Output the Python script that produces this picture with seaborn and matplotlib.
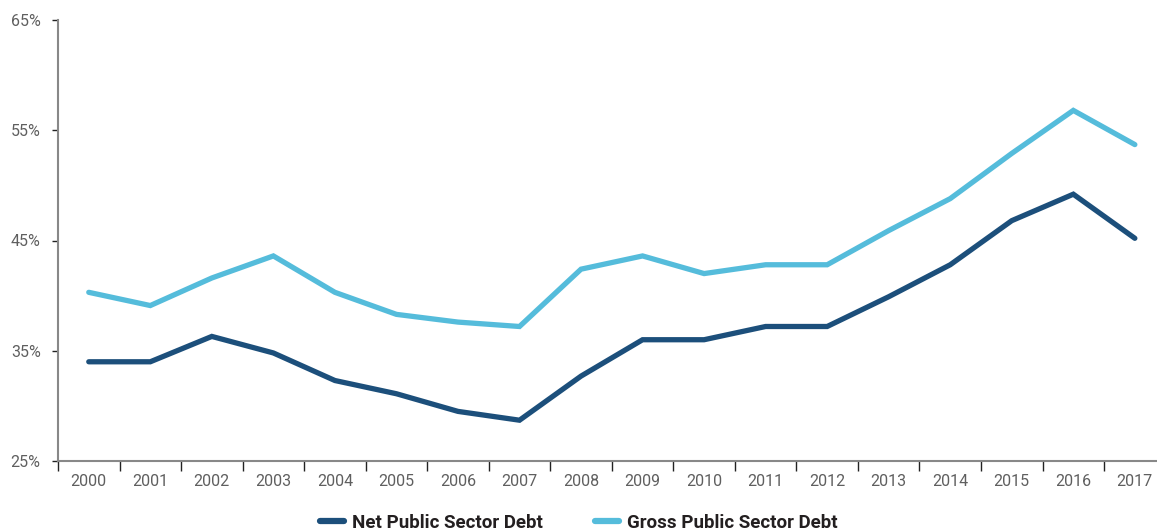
import matplotlib
matplotlib.use("Agg")
import matplotlib.pyplot as plt
import seaborn as sns
import pandas as pd
from matplotlib.lines import Line2D
from matplotlib.ticker import FixedLocator, FuncFormatter

years = [str(y) for y in range(2000, 2018)]
net_debt = [34.0, 34.0, 36.3, 34.8, 32.3, 31.1, 29.5, 28.7, 32.7, 36.0,
            36.0, 37.2, 37.2, 39.9, 42.8, 46.8, 49.2, 45.2]
gross_debt = [40.3, 39.1, 41.6, 43.6, 40.3, 38.3, 37.6, 37.2, 42.4, 43.6,
              42.0, 42.8, 42.8, 45.9, 48.8, 52.9, 56.8, 53.7]
series_names = ["Net Public Sector Debt", "Gross Public Sector Debt"]
y_ticks = [25, 35, 45, 55, 65]

colors = {"Net Public Sector Debt": "#1c4f7b",
          "Gross Public Sector Debt": "#55bcdb"}

sns.set_style("white")
plt.rcParams["font.family"] = ["Roboto", "DejaVu Sans"]

df = pd.DataFrame({
    "idx": list(range(len(years))) * 2,
    "value": net_debt + gross_debt,
    "series": [series_names[0]] * len(years) + [series_names[1]] * len(years),
})

fig = plt.figure(figsize=(11.57, 5.31), dpi=100)
ax = fig.add_axes([58 / 1157, (531 - 461) / 531, 1 - 58 / 1157, (461 - 20) / 531])

sns.lineplot(data=df, x="idx", y="value", hue="series", palette=colors,
             linewidth=3.8, ax=ax, legend=False, sort=False,
             solid_capstyle="round", solid_joinstyle="miter")

ax.set_xlim(-0.5, 17.36)
ax.set_ylim(25, 65)

# y axis
ax.yaxis.set_major_locator(FixedLocator(y_ticks))
ax.yaxis.set_major_formatter(FuncFormatter(lambda v, p: f"{v:.0f}%"))
ax.tick_params(axis="y", which="major", length=4.5, width=1.0, color="#222222",
               labelsize=11.5, labelcolor="#5f5f5f", pad=8, left=True)

# x axis: labels at category centres, tick marks at category boundaries
ax.set_xticks(range(len(years)))
ax.set_xticklabels(years)
ax.set_xticks([i - 0.5 for i in range(len(years))], minor=True)
ax.tick_params(axis="x", which="major", length=0, labelsize=11.5,
               labelcolor="#5f5f5f", pad=9)
ax.tick_params(axis="x", which="minor", length=7.5, width=1.0, color="#222222",
               bottom=True)

ax.set_xlabel("")
ax.set_ylabel("")
for side in ("top", "right"):
    ax.spines[side].set_visible(False)
for side in ("left", "bottom"):
    ax.spines[side].set_color("#888888")
    ax.spines[side].set_linewidth(1.5)

handles = [Line2D([0], [0], color=colors[n], lw=4.5, solid_capstyle="round")
           for n in series_names]
fig.legend(handles, series_names, loc="center", bbox_to_anchor=(0.5, 0.016),
           ncol=2, frameon=False, handlelength=1.3, columnspacing=2.8,
           prop={"weight": "bold", "size": 13.5}, labelcolor="#231f20",
           handletextpad=0.4)

fig.savefig("out.png", dpi=100)
